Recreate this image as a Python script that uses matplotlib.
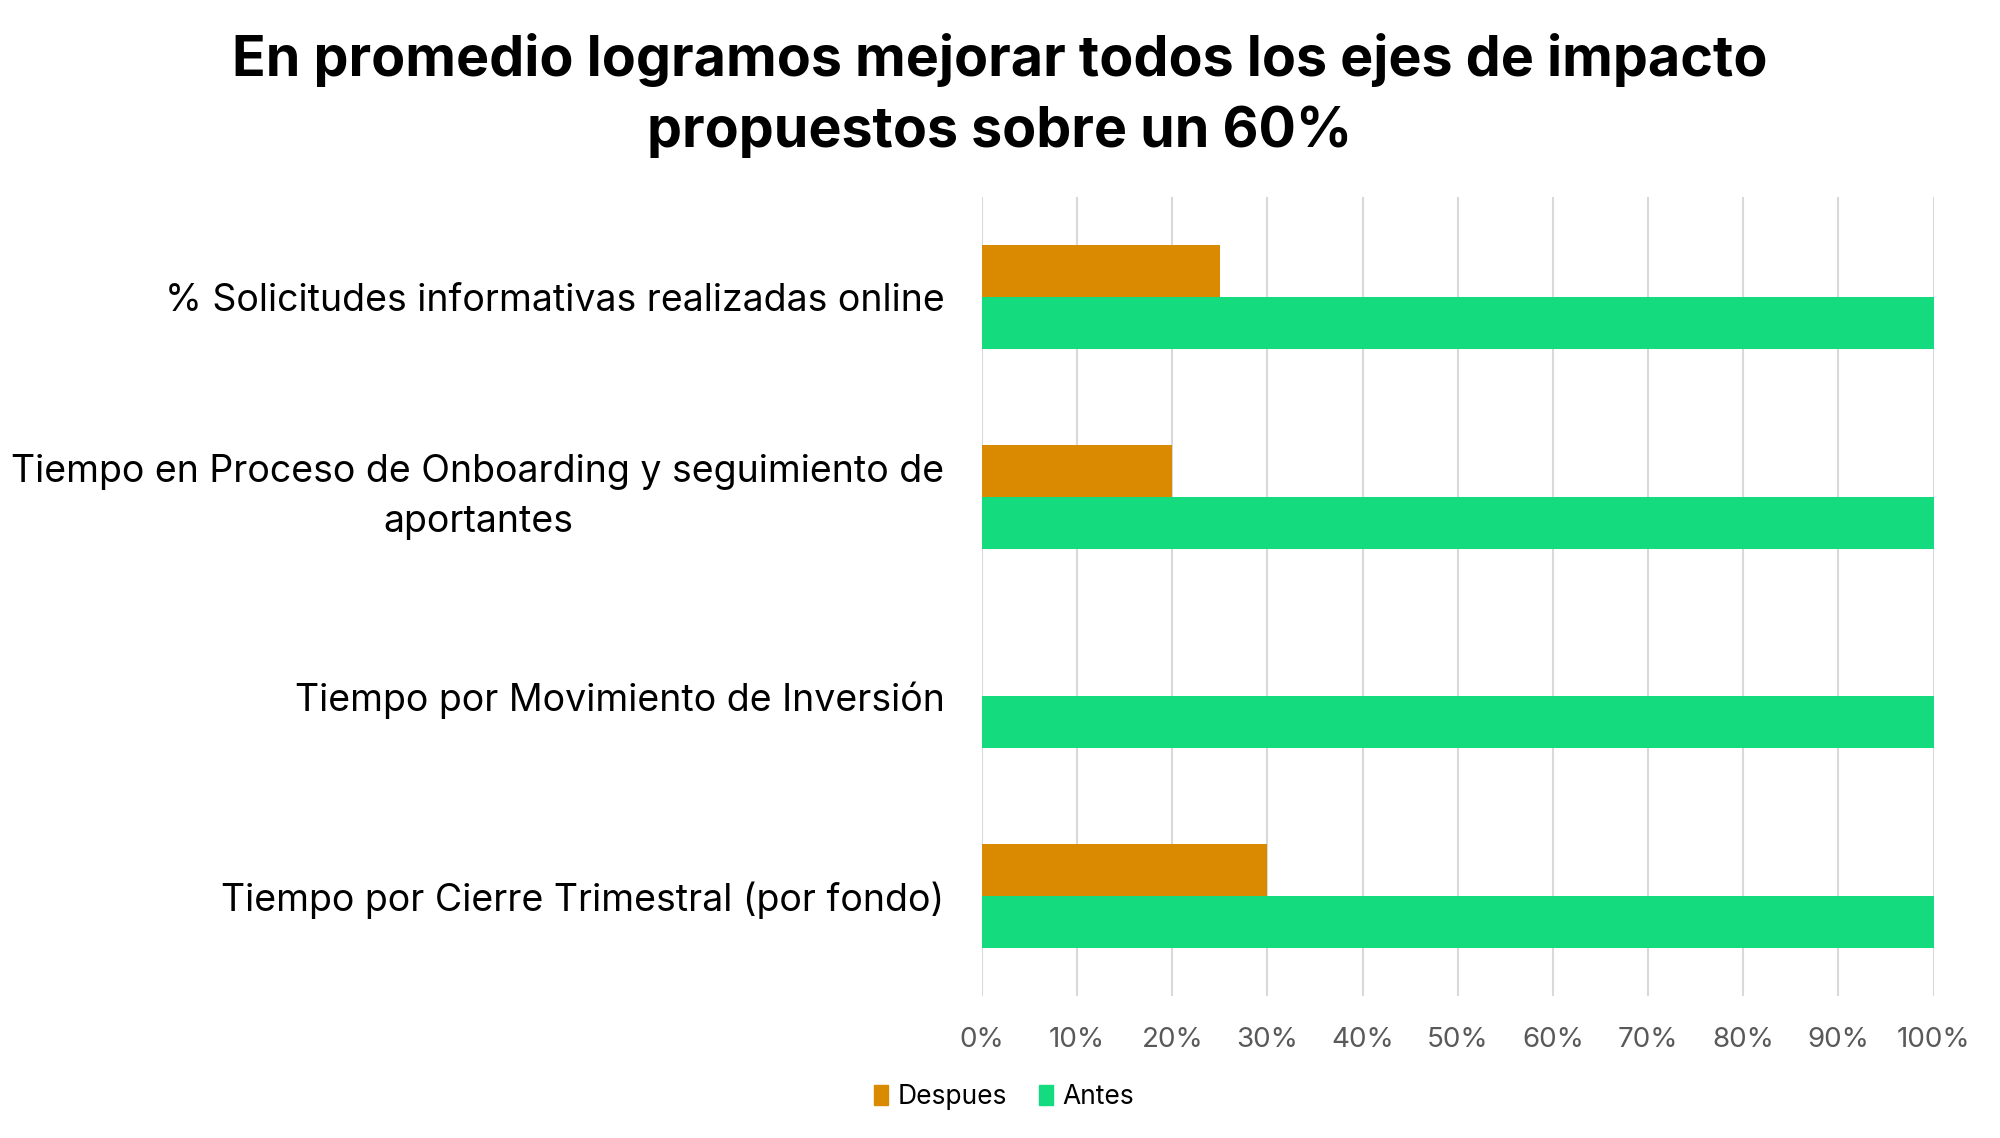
import numpy as np
import matplotlib
matplotlib.use('Agg')
import matplotlib.pyplot as plt
from matplotlib.patches import Patch

plt.rcParams['font.family'] = ['Inter', 'DejaVu Sans']

categories = ['% Solicitudes informativas realizadas online',
              'Tiempo en Proceso de Onboarding y seguimiento de\naportantes',
              'Tiempo por Movimiento de Inversión',
              'Tiempo por Cierre Trimestral (por fondo)']
despues = [25, 20, 0, 30]
antes = [100, 100, 100, 100]
ticks = [0, 10, 20, 30, 40, 50, 60, 70, 80, 90, 100]
tick_labels = ['0%', '10%', '20%', '30%', '40%', '50%', '60%', '70%', '80%', '90%', '100%']
title = 'En promedio logramos mejorar todos los ejes de impacto\npropuestos sobre un 60%'

c_desp = '#D98A00'
c_antes = '#14DB7D'

fig = plt.figure(figsize=(20, 11.38), dpi=100)
ax = fig.add_axes([0.491, 0.1248, 0.4758, 0.7021])

y = np.arange(len(categories))
h = 0.26
ax.barh(y - h / 2, despues, height=h, color=c_desp, zorder=3)
ax.barh(y + h / 2, antes, height=h, color=c_antes, zorder=3)

ax.set_xlim(0, 100)
ax.set_ylim(len(categories) - 0.5, -0.5)
ax.set_xticks(ticks)
ax.set_xticklabels(tick_labels, fontsize=20, color='#595959')
ax.set_yticks(y)
ax.set_yticklabels(categories, fontsize=27, color='black',
                   multialignment='center', linespacing=1.5)
for lab in ax.get_yticklabels():
    if '\n' in lab.get_text():
        lab.set_va('center')
ax.tick_params(axis='both', length=0)
ax.tick_params(axis='x', pad=22)
ax.tick_params(axis='y', pad=27)
ax.grid(axis='x', color='#D9D9D9', linewidth=1.5, zorder=0)
ax.set_axisbelow(True)
for s in ax.spines.values():
    s.set_visible(False)

fig.text(0.5, 0.916, title, ha='center', va='center', fontsize=40,
         fontweight='bold', linespacing=1.46)

handles = [Patch(color=c_desp, label='Despues'), Patch(color=c_antes, label='Antes')]
fig.legend(handles=handles, loc='center', bbox_to_anchor=(0.502, 0.036), ncol=2,
           frameon=False, fontsize=19, handlelength=0.55, handleheight=0.8,
           handletextpad=0.35, columnspacing=1.2)

fig.savefig('out.png', dpi=100, facecolor='white')
